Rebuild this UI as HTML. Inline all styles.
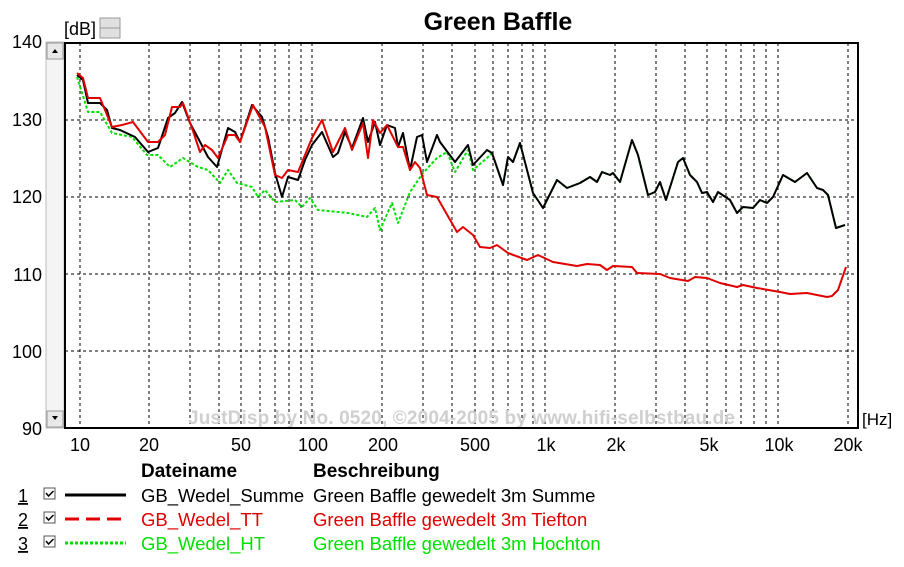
<!DOCTYPE html>
<html><head><meta charset="utf-8"><style>
body{margin:0;background:#fff;}
svg{display:block;font-family:"Liberation Sans",Arial,sans-serif;}
</style></head><body>
<svg width="904" height="567" viewBox="0 0 904 567" xmlns="http://www.w3.org/2000/svg">
<rect width="904" height="567" fill="#fff"/>
<text x="498" y="30" font-size="25" font-weight="bold" text-anchor="middle">Green Baffle</text>
<text x="64" y="35" font-size="18">[dB]</text>
<rect x="100" y="18" width="20" height="10" fill="#e0e0e0" stroke="#999"/>
<rect x="100" y="28" width="20" height="10" fill="#e0e0e0" stroke="#999"/>
<!-- scrollbar -->
<rect x="46" y="42" width="18" height="386" fill="#f4f4f4" stroke="#bbb"/>
<rect x="47" y="43" width="16" height="16" fill="#e8e8e8" stroke="#999"/>
<rect x="47" y="411" width="16" height="16" fill="#e8e8e8" stroke="#999"/>
<path d="M52 53 L58 53 L55 49Z M52 416 L58 416 L55 420Z" fill="#000"/>
<g font-size="18" text-anchor="end">
<text x="42" y="48">140</text><text x="42" y="126">130</text><text x="42" y="203">120</text>
<text x="42" y="281">110</text><text x="42" y="358">100</text><text x="42" y="435">90</text>
</g>
<g stroke="#000" stroke-width="1" stroke-dasharray="3,3" fill="none">
<path d="M65 120H858M65 197H858M65 274H858M65 351H858"/>
<path d="M80 43V428M149 43V428M190 43V428M219 43V428M241 43V428M260 43V428M275 43V428M289 43V428M301 43V428M312 43V428M382 43V428M423 43V428M452 43V428M475 43V428M493 43V428M508 43V428M522 43V428M533 43V428M545 43V428M615 43V428M656 43V428M685 43V428M707 43V428M726 43V428M741 43V428M754 43V428M766 43V428M778 43V428M848 43V428"/>
</g>
<text x="188" y="424" font-size="19" font-weight="bold" fill="#cfcfcf" textLength="547">JustDisp by No. 0520, ©2004-2005 by www.hifi-selbstbau.de</text>
<g fill="none" stroke-linejoin="round">
<polyline stroke="#00e000" stroke-width="2" stroke-dasharray="3,2" points="77,77 88,112 100,112 112,133 132,137 147,155 158,155 170,167 183,158 198,167 208,170 220,183 228,170 237,183 252,187 258,197 265,190 275,202 295,200 302,207 310,198 318,210 348,213 367,217 375,208 380,230 392,203 398,223 410,192 423,173 437,158 447,152 455,172 468,150 473,170 487,158 492,153 503,185 508,157 513,162 520,143 533,193 543,208 557,180 567,188 580,183 590,177 597,182 602,172 610,175 613,173 620,182 632,140 638,155 648,195 655,192 660,182 666,200 678,162 683,158 690,175 697,182 702,193 707,192 713,202 718,192 730,200 737,213 743,207 753,208 760,200 767,203 773,197 783,175 795,182 807,173 817,188 823,190 828,195 836,228 845,225"/>
<polyline stroke="#000" stroke-width="2" points="77,75 83,80 88,103 100,103 107,110 112,128 120,130 135,137 148,152 158,148 168,118 175,113 182,102 190,123 198,138 208,157 217,167 228,128 235,132 240,142 252,105 262,117 268,137 275,173 282,197 288,177 298,180 305,160 312,145 322,132 333,157 338,153 345,132 352,148 363,118 368,142 375,122 380,145 387,125 395,128 398,147 403,133 410,170 417,137 422,135 427,162 437,135 440,142 455,162 468,145 473,165 487,150 492,153 503,185 508,157 513,162 520,143 533,193 543,208 557,180 567,188 580,183 590,177 597,182 602,172 610,175 613,173 620,182 632,140 638,155 648,195 655,192 660,182 666,200 678,162 683,158 690,175 697,182 702,193 707,192 713,202 718,192 730,200 737,213 743,207 753,208 760,200 767,203 773,197 783,175 795,182 807,173 817,188 823,190 828,195 836,228 845,225"/>
<polyline stroke="#e00000" stroke-width="2" points="77,73 83,78 88,98 100,98 112,127 122,125 133,122 148,142 158,142 165,135 172,107 180,107 183,103 192,128 200,152 205,145 212,150 218,158 228,135 235,135 240,142 253,105 265,127 275,175 282,178 288,170 298,172 312,138 322,120 333,152 345,128 352,150 363,123 368,158 373,120 380,133 387,125 398,147 403,147 410,170 415,162 420,168 427,195 437,197 457,232 463,227 473,235 480,247 490,248 497,245 508,253 527,260 538,255 553,262 577,266 587,264 600,265 607,270 613,266 632,267 637,273 660,274 670,278 688,281 695,277 707,278 720,283 737,287 743,285 757,288 780,292 790,294 807,293 827,297 832,296 838,290 846,267"/>
</g>
<rect x="65" y="43" width="793" height="385" fill="none" stroke="#000" stroke-width="2"/>
<g font-size="18" text-anchor="middle">
<text x="80" y="451">10</text><text x="149" y="451">20</text><text x="241" y="451">50</text>
<text x="313" y="451">100</text><text x="383" y="451">200</text><text x="475" y="451">500</text>
<text x="546" y="451">1k</text><text x="616" y="451">2k</text><text x="709" y="451">5k</text>
<text x="779" y="451">10k</text><text x="848" y="451">20k</text>
</g>
<text x="862" y="425" font-size="17">[Hz]</text>
<g font-size="19" font-weight="bold"><text x="141" y="477">Dateiname</text><text x="313" y="477">Beschreibung</text></g>
<g font-size="18">
<text x="18" y="502" text-decoration="underline">1</text>
<text x="18" y="526" text-decoration="underline">2</text>
<text x="18" y="550" text-decoration="underline">3</text>
</g>
<g fill="#fff" stroke="#555"><rect x="44" y="488" width="11" height="11"/><rect x="44" y="512" width="11" height="11"/><rect x="44" y="536" width="11" height="11"/></g>
<g fill="none" stroke="#000" stroke-width="1.5"><path d="M46 493l2.5 3 5-5M46 517l2.5 3 5-5M46 541l2.5 3 5-5"/></g>
<line x1="65" y1="495" x2="126" y2="495" stroke="#000" stroke-width="3"/>
<line x1="65" y1="519" x2="126" y2="519" stroke="#e00000" stroke-width="3" stroke-dasharray="14,7"/>
<line x1="65" y1="543" x2="126" y2="543" stroke="#00e000" stroke-width="3" stroke-dasharray="3,2"/>
<g font-size="18.5">
<text x="141" y="502">GB_Wedel_Summe</text><text x="313" y="502">Green Baffle gewedelt 3m Summe</text>
<text x="141" y="526" fill="#e00000">GB_Wedel_TT</text><text x="313" y="526" fill="#e00000">Green Baffle gewedelt 3m Tiefton</text>
<text x="141" y="550" fill="#00e000">GB_Wedel_HT</text><text x="313" y="550" fill="#00e000">Green Baffle gewedelt 3m Hochton</text>
</g>
</svg>
</body></html>
